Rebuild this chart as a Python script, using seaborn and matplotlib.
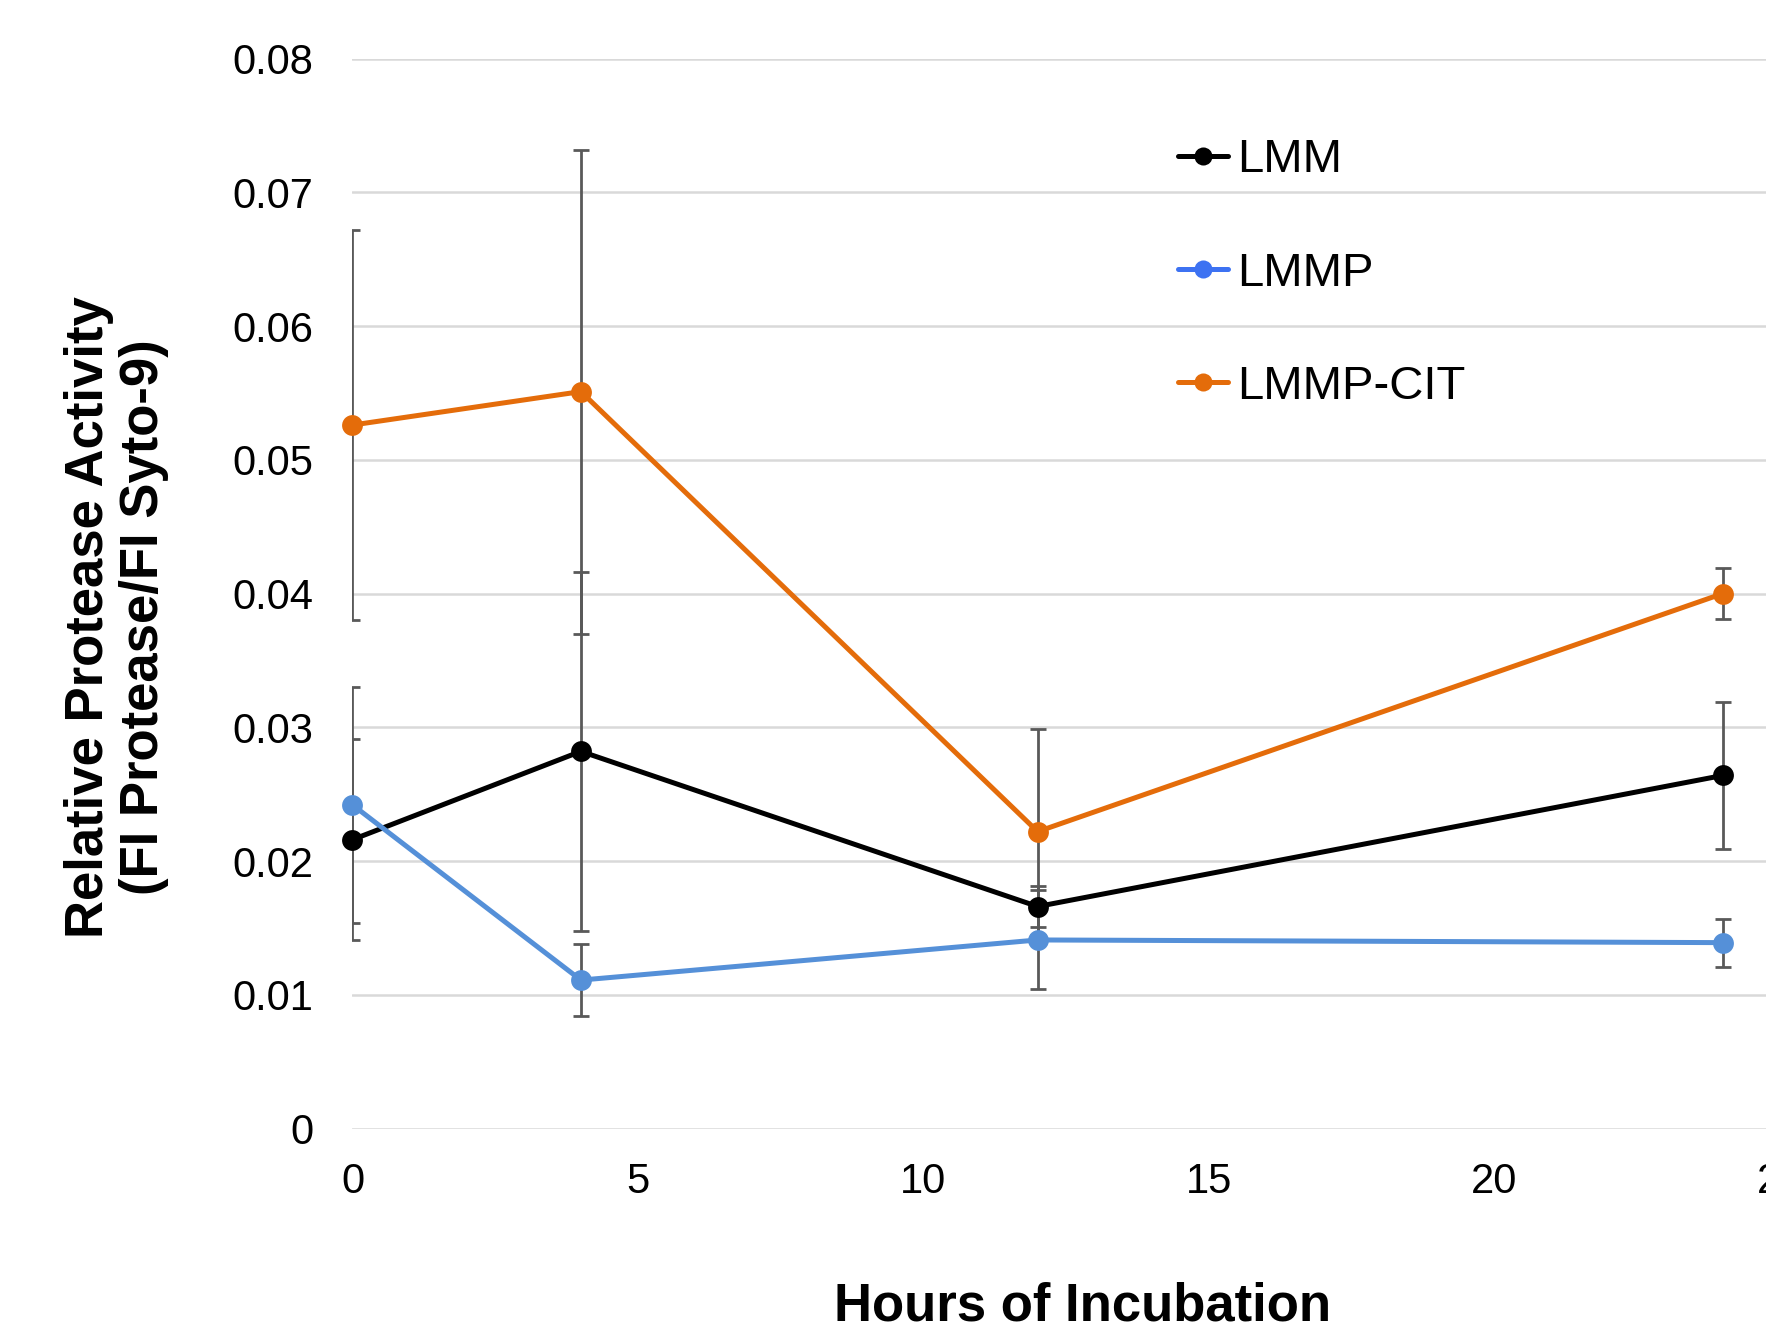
import pandas as pd
import matplotlib.pyplot as plt
import seaborn as sns
from matplotlib.lines import Line2D

# data
hours = [0, 4, 12, 24]
series_names = ["LMM", "LMMP", "LMMP-CIT"]
lmm = [0.0216, 0.0282, 0.0166, 0.0264]
lmmp = [0.0242, 0.0111, 0.0141, 0.0139]
lmmp_cit = [0.0526, 0.0551, 0.0222, 0.0400]
lmm_err = [0.0075, 0.0134, 0.0015, 0.0055]
lmmp_err = [0.0088, 0.0027, 0.0037, 0.0018]
lmmp_cit_err = [0.0146, 0.0181, 0.0077, 0.0019]
x_ticks = [0, 5, 10, 15, 20, 25]
y_ticks = [0, 0.01, 0.02, 0.03, 0.04, 0.05, 0.06, 0.07, 0.08]

colors = {"LMM": "#000000", "LMMP": "#5590d8", "LMMP-CIT": "#e46c0a"}
legend_colors = {"LMM": "#000000", "LMMP": "#3d72f2", "LMMP-CIT": "#e46c0a"}

df = pd.DataFrame({
    "hours": hours * 3,
    "value": lmm + lmmp + lmmp_cit,
    "error": lmm_err + lmmp_err + lmmp_cit_err,
    "series": [n for n in series_names for _ in hours],
})

sns.set_style("white")
plt.rcParams["font.family"] = ["Liberation Sans", "DejaVu Sans"]
plt.rcParams["text.color"] = "#000000"

fig = plt.figure(figsize=(17.66, 13.28), dpi=100)
ax = fig.add_axes([0.1996, 0.1502, 0.8083, 0.8057])

# error bars first, so the lines sit on top
for name in series_names:
    sub = df[df["series"] == name]
    ax.errorbar(sub["hours"], sub["value"], yerr=sub["error"], fmt="none",
                ecolor="#595959", elinewidth=2.0, capsize=5.5, capthick=2.0, zorder=2)

sns.lineplot(data=df, x="hours", y="value", hue="series", palette=colors,
             marker="o", markersize=15, markeredgewidth=0, linewidth=3.6,
             errorbar=None, legend=False, ax=ax, zorder=3, clip_on=False)

ax.set_xlim(0, 25)
ax.set_ylim(0, 0.08)
ax.set_xticks(x_ticks)
ax.set_yticks(y_ticks)
ax.set_xticklabels([str(t) for t in x_ticks])
ax.set_yticklabels(["0"] + [f"{t:.2f}" for t in y_ticks[1:]])
ax.tick_params(axis="both", length=0, labelsize=30, labelcolor="#000000")
ax.tick_params(axis="y", pad=28)
ax.tick_params(axis="x", pad=24)
ax.grid(axis="y", color="#d9d9d9", linewidth=1.8)
ax.grid(axis="x", visible=False)
for s in ax.spines.values():
    s.set_visible(False)
ax.set_xlabel("")
ax.set_ylabel("")

fig.text(0.613, 0.006, "Hours of Incubation", fontsize=38, fontweight="bold",
         ha="center", va="baseline")
fig.text(0.066, 0.535, "Relative Protease Activity\n(FI Protease/FI Syto-9)",
         fontsize=38, fontweight="bold", rotation=90, ha="center", va="center",
         multialignment="center", linespacing=1.12)

handles = [Line2D([], [], color=legend_colors[n], linewidth=3.6, marker="o",
                  markersize=13, markeredgewidth=0) for n in series_names]
fig.legend(handles, series_names, loc="upper left", bbox_to_anchor=(0.667, 0.896),
           frameon=False, fontsize=34, handlelength=1.05, handletextpad=0.2,
           labelspacing=1.47, borderpad=0, borderaxespad=0)

fig.savefig("out.png", dpi=100)
